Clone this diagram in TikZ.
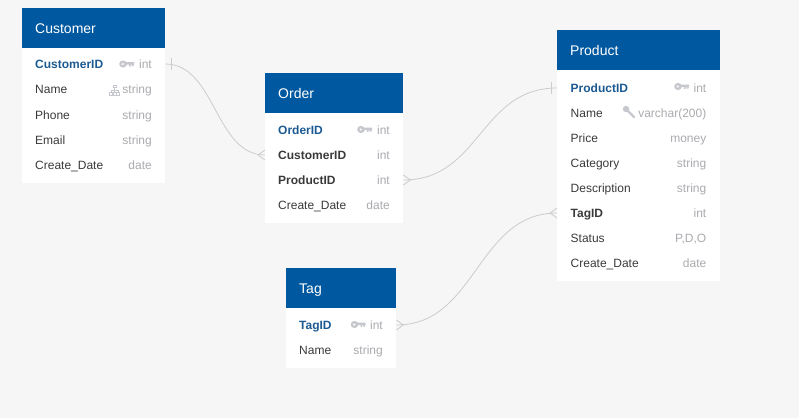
\documentclass[tikz,border=0pt]{standalone}
\usepackage{fontspec}
\setmainfont{Liberation Sans}
\usetikzlibrary{positioning}
\definecolor{canvasgray}{HTML}{F6F6F6}
\definecolor{headblue}{HTML}{0059A0}
\definecolor{keyblue}{HTML}{1C5A92}
\definecolor{fieldblack}{HTML}{3A3A3A}
\definecolor{typegray}{HTML}{ABABB0}
\definecolor{icongray}{HTML}{C6C8CE}
\definecolor{linkgray}{HTML}{CCCCCC}
\tikzset{
  tablebody/.style={fill=white, anchor=north west, inner sep=0pt},
  tablehead/.style={fill=headblue, text=white, anchor=north west, inner xsep=13pt, inner ysep=0pt,
    minimum height=40pt, align=left, text height=10pt, text depth=0pt, font=\fontsize{14}{16}\selectfont},
  fieldname/.style={anchor=base west, inner sep=0pt, text=fieldblack, font=\fontsize{12}{14}\selectfont},
  keyfield/.style={fieldname, text=keyblue, font=\fontsize{12}{14}\selectfont\bfseries},
  fkfield/.style={fieldname, font=\fontsize{12}{14}\selectfont\bfseries},
  fieldtype/.style={anchor=base east, inner sep=0pt, text=typegray, font=\fontsize{12}{14}\selectfont},
  link/.style={draw=linkgray, line width=0.8pt},
  keyicon/.pic={
    \fill[icongray] (-3.5,0) ellipse (3.8 and 3.6);
    \fill[white] (-3.8,0) circle (1.2);
    \fill[icongray] (-1,-1.8) rectangle (7.5,0.6) (2.5,0.6) rectangle (4,2.6) (5,0.6) rectangle (7,2.2);
  },
  treeicon/.pic={
    \draw[icongray, line width=0.7pt] (-1.5,-5) rectangle (1.5,-2.5) (0,-2.5) -- (0,2) (-3.5,2) -- (-3.5,0) -- (3.5,0) -- (3.5,2)
      (-5,2) rectangle (-2,5) (-1.5,2) rectangle (1.5,5) (2,2) rectangle (5,5);
  },
  wrenchicon/.pic={
    \draw[icongray, line width=2.4pt, line cap=round] (-1.5,-1.5) -- (5,5);
    \fill[icongray] (-3,-3) circle (3.2);
  },
}
\begin{document}
\begin{tikzpicture}[x=1pt, y=-1pt]
  \fill[canvasgray] (0,0) rectangle (799,418); %
  \useasboundingbox (0,0) rectangle (799,418); %
  % Customer
  \node[tablebody, minimum width=143pt, minimum height=175pt] (customer) at (22,8) {}; %
  \node[tablehead, text width=117pt] (customerhead) at (22,8) {Customer}; %
  \node[keyfield] (customerid) at (35,68) {CustomerID}; %
  \node[fieldname] (customername) at (35,93.5) {Name}; %
  \node[fieldname] (customerphone) at (35,119) {Phone}; %
  \node[fieldname] (customeremail) at (35,144) {Email}; %
  \node[fieldname] (customerdate) at (35,169) {Create\_Date}; %
  \node[fieldtype] (customeridtype) at (152,68) {int}; %
  \node[fieldtype] (customernametype) at (152,93.5) {string}; %
  \node[fieldtype] (customerphonetype) at (152,119) {string}; %
  \node[fieldtype] (customeremailtype) at (152,144) {string}; %
  \node[fieldtype] (customerdatetype) at (152,169) {date}; %
  \pic at (126.5,64) {keyicon}; %
  \pic at (114.5,90) {treeicon}; %
  % Order
  \node[tablebody, minimum width=138pt, minimum height=150pt] (order) at (265,73) {}; %
  \node[tablehead, text width=112pt] (orderhead) at (265,73) {Order}; %
  \node[keyfield] (orderid) at (278,134) {OrderID}; %
  \node[fkfield] (ordercustomer) at (278,159) {CustomerID}; %
  \node[fkfield] (orderproduct) at (278,184) {ProductID}; %
  \node[fieldname] (orderdate) at (278,209) {Create\_Date}; %
  \node[fieldtype] (orderidtype) at (390,134) {int}; %
  \node[fieldtype] (ordercustomertype) at (390,159) {int}; %
  \node[fieldtype] (orderproducttype) at (390,184) {int}; %
  \node[fieldtype] (orderdatetype) at (390,209) {date}; %
  \pic at (364.5,129.5) {keyicon}; %
  % Product
  \node[tablebody, minimum width=163pt, minimum height=251pt] (product) at (557,30) {}; %
  \node[tablehead, text width=137pt] (producthead) at (557,30) {Product}; %
  \node[keyfield] (productid) at (570.5,92) {ProductID}; %
  \node[fieldname] (productname) at (570.5,117) {Name}; %
  \node[fieldname] (productprice) at (570.5,142) {Price}; %
  \node[fieldname] (productcategory) at (570.5,167) {Category}; %
  \node[fieldname] (productdesc) at (570.5,192) {Description}; %
  \node[fkfield] (producttag) at (570.5,217) {TagID}; %
  \node[fieldname] (productstatus) at (570.5,242) {Status}; %
  \node[fieldname] (productdate) at (570.5,267) {Create\_Date}; %
  \node[fieldtype] (productidtype) at (706.5,92) {int}; %
  \node[fieldtype] (productnametype) at (706.5,117) {varchar(200)}; %
  \node[fieldtype] (productpricetype) at (706.5,142) {money}; %
  \node[fieldtype] (productcategorytype) at (706.5,167) {string}; %
  \node[fieldtype] (productdesctype) at (706.5,192) {string}; %
  \node[fieldtype] (producttagtype) at (706.5,217) {int}; %
  \node[fieldtype] (productstatustype) at (706.5,242) {P,D,O}; %
  \node[fieldtype] (productdatetype) at (706.5,267) {date}; %
  \pic at (681.5,86.5) {keyicon}; %
  \pic at (629,112) {wrenchicon}; %
  % Tag
  \node[tablebody, minimum width=110pt, minimum height=100pt] (tag) at (286,268) {}; %
  \node[tablehead, text width=84pt] (taghead) at (286,268) {Tag}; %
  \node[keyfield] (tagid) at (299,329) {TagID}; %
  \node[fieldname] (tagname) at (299,354) {Name}; %
  \node[fieldtype] (tagidtype) at (383,329) {int}; %
  \node[fieldtype] (tagnametype) at (383,354) {string}; %
  \pic at (358,324.5) {keyicon}; %
  % links between the tables
  \coordinate (customerport) at ([yshift=4pt]customer.east |- customeridtype.base); %
  \coordinate (orderinport) at ([yshift=4pt]order.west |- ordercustomertype.base); %
  \coordinate (orderoutport) at ([yshift=4pt]order.east |- orderproducttype.base); %
  \coordinate (productinport) at ([yshift=4pt]product.west |- productidtype.base); %
  \coordinate (producttagport) at ([yshift=4pt]product.west |- producttagtype.base); %
  \coordinate (tagport) at ([yshift=4pt]tag.east |- tagidtype.base); %
  \draw[link] (customerport) .. controls +(50,0) and +(-50,0) .. (orderinport); %
  \draw[link] (orderoutport) .. controls +(77,0) and +(-77,0) .. (productinport); %
  \draw[link] (tagport) .. controls +(80,0) and +(-80,0) .. (producttagport); %
  % bar ends
  \draw[link] (customerport) ++(6,-6) -- ++(0,12); %
  \draw[link] (productinport) ++(-6,-6) -- ++(0,12); %
  % crow's feet
  \draw[link] (orderinport) ++(-7,0) -- ++(7,-5) ++(-7,5) -- ++(7,5); %
  \draw[link] (orderoutport) ++(7,0) -- ++(-7,-5) ++(7,5) -- ++(-7,5); %
  \draw[link] (producttagport) ++(-7,0) -- ++(7,-5) ++(-7,5) -- ++(7,5); %
  \draw[link] (tagport) ++(7,0) -- ++(-7,-5) ++(7,5) -- ++(-7,5); %
\end{tikzpicture}
\end{document}
